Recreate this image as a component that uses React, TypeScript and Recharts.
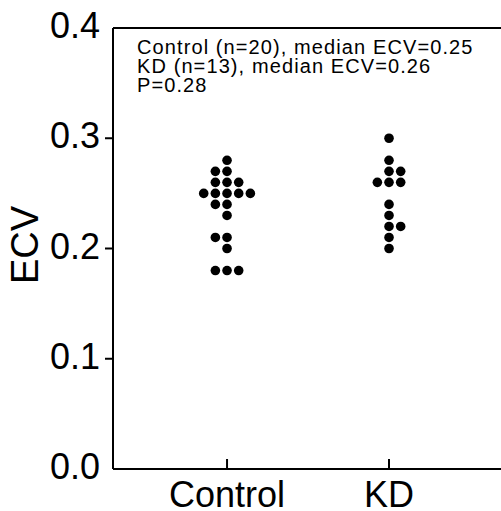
import { ScatterChart, Scatter, XAxis, YAxis, ReferenceLine } from 'recharts';

const groups = ['Control', 'KD'];
const controlEcv = [
  0.28, 0.27, 0.27, 0.26, 0.26, 0.26, 0.25, 0.25, 0.25, 0.25, 0.25,
  0.24, 0.24, 0.23, 0.21, 0.21, 0.2, 0.18, 0.18, 0.18,
];
const kdEcv = [0.3, 0.28, 0.27, 0.27, 0.26, 0.26, 0.26, 0.24, 0.23, 0.22, 0.22, 0.21, 0.2];
const yTicks = [0, 0.1, 0.2, 0.3, 0.4];
const notes = [
  'Control (n=20), median ECV=0.25',
  'KD (n=13), median ECV=0.26',
  'P=0.28',
];

const FONT = '"Liberation Sans", Arial, Helvetica, sans-serif';
const STEP = 0.072; // horizontal gap between stacked dots, in x units

// no page scrollbars, chart sits at the top-left corner
if (typeof document !== 'undefined') {
  document.documentElement.style.overflow = 'hidden';
  document.body.style.margin = '0';
  document.body.style.overflow = 'hidden';
}

// simple dot-plot stacking: equal values spread sideways around the group centre
function swarm(values: number[], center: number, lean: number) {
  const counts: Record<string, number> = {};
  values.forEach((v) => {
    const k = v.toFixed(2);
    counts[k] = (counts[k] || 0) + 1;
  });
  const seen: Record<string, number> = {};
  return values.map((v) => {
    const k = v.toFixed(2);
    const n = counts[k];
    const i = seen[k] || 0;
    seen[k] = i + 1;
    let off = i - (n - 1) / 2;
    if (n % 2 === 0) off += lean * 0.5;
    return { x: center + off * STEP, y: v };
  });
}

const points = [...swarm(controlEcv, 1, -1), ...swarm(kdEcv, 2, 1)];

const Dot = (props: any) => <circle cx={props.cx} cy={props.cy} r={4.8} fill="#000" />;

const XTick = ({ x, y, payload }: any) => (
  <g>
    <line x1={x} y1={y} x2={x} y2={y - 10} stroke="#000" strokeWidth={2} />
    <text x={x} y={y + 38} textAnchor="middle" fontSize={36} fontFamily={FONT} fill="#000">
      {groups[payload.value - 1]}
    </text>
  </g>
);

const YTick = ({ x, y, payload }: any) => {
  const edge = payload.value === 0 || payload.value === 0.4;
  return (
    <g>
      {!edge && <line x1={x - 8} y1={y} x2={x} y2={y} stroke="#000" strokeWidth={2} />}
      <text x={x - 13} y={y + 10} textAnchor="end" fontSize={36} fontFamily={FONT} fill="#000">
        {payload.value.toFixed(1)}
      </text>
    </g>
  );
};

export default function App() {
  return (
    <div style={{ position: 'relative', width: 501, height: 511, overflow: 'hidden', background: '#fff' }}>
      {/* plot box runs past the right edge, as in the source figure */}
      <ScatterChart width={560} height={511} margin={{ top: 28, right: 55, bottom: 0, left: 0 }}>
        <XAxis
          type="number"
          dataKey="x"
          domain={[0.296, 2.716]}
          ticks={[1, 2]}
          allowDataOverflow
          height={42}
          tickSize={0}
          tickMargin={0}
          tickLine={false}
          tick={<XTick />}
          axisLine={{ stroke: '#000', strokeWidth: 2 }}
        />
        <YAxis
          type="number"
          dataKey="y"
          domain={[0, 0.4]}
          ticks={yTicks}
          width={113}
          tickSize={0}
          tickMargin={0}
          tickLine={false}
          tick={<YTick />}
          axisLine={{ stroke: '#000', strokeWidth: 2 }}
          label={() => (
            <text
              x={25}
              y={245}
              transform="rotate(-90 25 245)"
              textAnchor="middle"
              dominantBaseline="central"
              fontSize={38}
              fontFamily={FONT}
              fill="#000"
            >
              ECV
            </text>
          )}
        />
        <ReferenceLine y={0.4} stroke="#000" strokeWidth={2} />
        <Scatter data={points} shape={<Dot />} isAnimationActive={false} />
        <g>
          {notes.map((t, i) => (
            <text key={t} x={137} y={54 + i * 19} fontSize={20} letterSpacing={1.1} fontFamily={FONT} fill="#000">
              {t}
            </text>
          ))}
        </g>
      </ScatterChart>
      {/* keep the open right side of the frame clean */}
      <div style={{ position: 'absolute', left: 494, top: 30, width: 7, height: 437, background: '#fff' }} />
    </div>
  );
}
